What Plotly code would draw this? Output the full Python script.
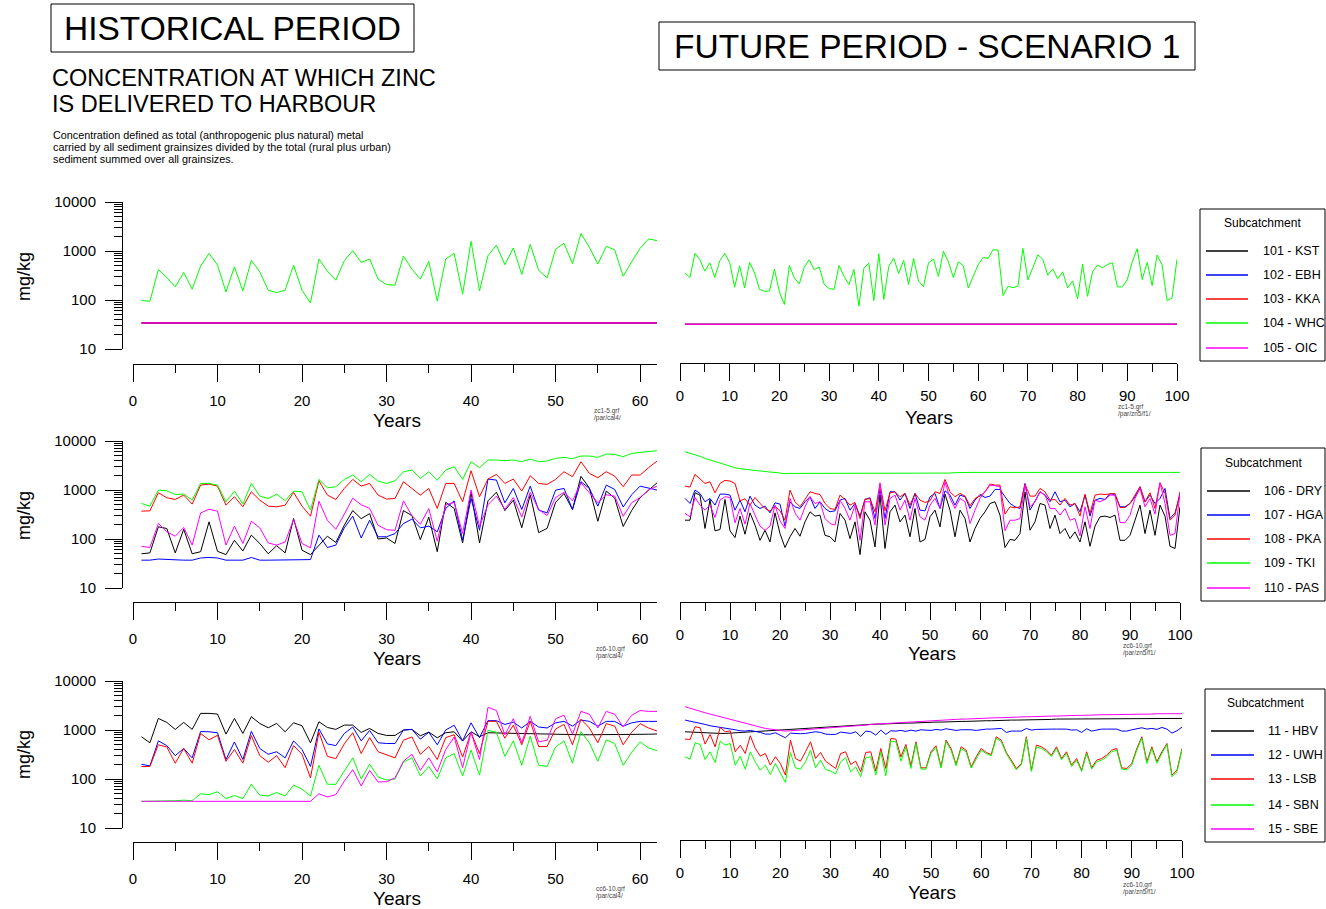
import plotly.graph_objects as go

W, H = 1326, 909
FONT = "Liberation Sans, Arial, Helvetica, sans-serif"

# ---------------- data ----------------
years_hist = list(range(1, 63))
years_fut = list(range(1, 101))

# Row 1: subcatchments 101-105
r1_names = ["101 - KST", "102 - EBH", "103 - KKA", "104 - WHC", "105 - OIC"]
kst_hist = [34] * 62
ebh_hist = [34] * 62
kka_hist = [34] * 62
whc_hist = [98, 94, 420, 288, 185, 365, 166, 492, 895, 515, 146, 476, 153, 643, 376, 158, 142, 158, 515, 158,
            87, 685, 388, 254, 633, 1016, 585, 685, 266, 207, 200, 789, 427, 266, 613, 95, 685, 895, 131, 1580,
            153, 802, 1306, 524, 1153, 332, 1371, 401, 283, 1082, 1438, 549, 2272, 1190, 541, 1247, 1049, 306, 604, 1135,
            1765, 1632]
oic_hist = [34] * 62

kst_fut = [32] * 100
ebh_fut = [32] * 100
kka_fut = [32] * 100
whc_fut = [358, 287, 894, 663, 388, 575, 287, 632, 894, 575, 182, 499, 176, 584, 358, 165, 150, 153, 426, 146,
           81, 507, 283, 213, 469, 663, 413, 476, 210, 171, 165, 507, 306, 206, 420, 75, 447, 566, 97, 881,
           103, 484, 717, 347, 642, 206, 706, 241, 188, 575, 684, 301, 984, 603, 287, 603, 499, 176, 306, 523,
           740, 706, 1063, 1047, 123, 191, 179, 191, 1133, 257, 461, 839, 673, 321, 433, 270, 376, 176, 245, 106,
           540, 119, 376, 515, 454, 531, 575, 185, 185, 261, 603, 1115, 261, 584, 197, 826, 523, 97, 110, 684]
oic_fut = [32] * 100

# Row 2: subcatchments 106-110
r2_names = ["106 - DRY", "107 - HGA", "108 - PKA", "109 - TKI", "110 - PAS"]
dry_hist = [50, 52, 177, 164, 52, 158, 50, 55, 224, 56, 48, 94, 57, 120, 81, 50, 73, 52, 262, 59,
            48, 75, 114, 85, 191, 380, 260, 330, 100, 105, 81, 380, 300, 97, 280, 55, 560, 420, 83, 900,
            83, 600, 900, 380, 620, 170, 800, 135, 165, 560, 850, 400, 1900, 1100, 230, 950, 680, 180, 380, 700,
            1000, 1400]
hga_hist = [37, 37, 39, 38, 37, 37, 37, 41, 42, 41, 37, 37, 37, 42, 37, 37, 37, 37, 38, 37,
            38, 120, 67, 75, 169, 292, 105, 242, 111, 111, 129, 207, 254, 169, 183, 140, 420, 600, 94, 673,
            151, 1671, 1594, 548, 1076, 400, 1202, 388, 342, 995, 1076, 400, 1473, 1076, 469, 1259, 1028, 450, 800, 1200,
            1100, 1000]
pka_hist = [370, 376, 878, 694, 641, 787, 515, 1259, 1321, 1202, 491, 728, 454, 920, 621, 469, 454, 491, 892, 469,
            292, 1545, 787, 641, 1076, 1644, 1202, 1361, 787, 652, 673, 1473, 1076, 787, 1076, 420, 1361, 1361, 574, 2473,
            728, 1671, 2081, 1361, 1671, 950, 1954, 1361, 1300, 1644, 2360, 1865, 3779, 2183, 1778, 2360, 1923, 1164, 2018, 2018,
            2850, 3900]
tki_hist = [531, 469, 995, 964, 811, 824, 621, 1361, 1361, 1259, 574, 950, 515, 1361, 750, 673, 824, 603, 950, 920,
            388, 1644, 1111, 1164, 1644, 2018, 1473, 2081, 1521, 1361, 1545, 2360, 2552, 1724, 2360, 1594, 2552, 2985, 1644, 3779,
            2850, 4088, 4088, 3964, 4088, 3779, 4286, 3779, 3900, 4425, 4634, 4355, 4936, 4936, 4634, 5425, 5335, 4782, 5597, 5773,
            6051, 6339]
pas_hist = [71, 67, 207, 140, 114, 172, 75, 340, 405, 370, 75, 183, 81, 231, 169, 83, 75, 87, 250, 81,
            66, 593, 240, 158, 321, 680, 500, 420, 190, 155, 150, 600, 300, 200, 420, 90, 500, 560, 130, 1000,
            180, 500, 750, 400, 700, 280, 900, 400, 300, 700, 900, 600, 1400, 900, 550, 800, 750, 290, 550, 700,
            1000, 1200]

dry_fut = [242, 242, 878, 787, 164, 641, 147, 156, 641, 147, 107, 293, 125, 342, 192, 94, 151, 87, 342, 129,
           67, 111, 164, 114, 224, 359, 293, 307, 119, 111, 87, 332, 242, 102, 224, 48, 359, 242, 69, 787,
           64, 359, 491, 224, 307, 111, 420, 87, 98, 284, 388, 177, 824, 388, 111, 388, 262, 87, 164, 262,
           359, 531, 574, 307, 67, 98, 94, 129, 920, 151, 224, 531, 491, 164, 307, 129, 164, 102, 140, 87,
           224, 71, 183, 284, 293, 275, 307, 94, 94, 119, 242, 491, 129, 388, 119, 491, 293, 71, 64, 454]
hga_fut = [673, 531, 996, 850, 574, 673, 491, 824, 824, 787, 388, 621, 359, 750, 491, 420, 469, 342, 548, 515,
           183, 574, 454, 420, 574, 727, 420, 574, 420, 359, 376, 621, 673, 388, 531, 293, 641, 694, 262, 1027,
           262, 920, 920, 621, 850, 420, 850, 388, 376, 727, 850, 420, 964, 787, 491, 787, 727, 420, 621, 811,
           705, 750, 1027, 1027, 727, 531, 454, 420, 1362, 388, 593, 920, 787, 574, 920, 574, 621, 454, 531, 359,
           787, 293, 621, 673, 641, 850, 787, 454, 454, 531, 727, 1165, 574, 787, 531, 673, 1077, 262, 342, 787]
pka_fut = [1202, 1147, 2080, 1645, 1362, 1473, 878, 1362, 1570, 1520, 1362, 602, 662, 491, 705, 531, 420, 370, 469, 376,
           242, 996, 574, 454, 641, 920, 850, 811, 531, 420, 401, 787, 641, 491, 557, 262, 651, 662, 359, 1320,
           376, 878, 920, 727, 850, 491, 850, 621, 557, 602, 920, 850, 1645, 920, 727, 850, 750, 476, 673, 750,
           920, 1320, 1260, 1260, 321, 454, 433, 454, 1320, 750, 750, 1077, 920, 621, 641, 491, 673, 491, 531, 293,
           824, 332, 787, 824, 811, 824, 850, 440, 440, 531, 787, 1165, 574, 878, 420, 1405, 850, 242, 307, 920]
tki_fut = [6051, 5684, 5338, 4858, 4421, 4088, 3779, 3494, 3230, 3034, 2849, 2718, 2634, 2552, 2474, 2397, 2359, 2323, 2287, 2216,
           2148, 2182, 2182, 2182, 2182, 2182, 2182, 2182, 2182, 2182, 2182, 2182, 2182, 2182, 2182, 2148, 2182, 2182, 2182, 2182,
           2182, 2182, 2182, 2182, 2182, 2182, 2216, 2182, 2182, 2216, 2216, 2216, 2216, 2216, 2250, 2287, 2287, 2287, 2287, 2287,
           2287, 2287, 2287, 2287, 2287, 2287, 2287, 2287, 2287, 2287, 2287, 2287, 2287, 2287, 2287, 2287, 2287, 2287, 2287, 2287,
           2287, 2287, 2287, 2287, 2287, 2287, 2287, 2287, 2287, 2287, 2323, 2359, 2359, 2323, 2359, 2323, 2287, 2287, 2323, 2287]
pas_fut = [332, 284, 705, 491, 388, 491, 275, 621, 727, 705, 214, 420, 201, 531, 307, 183, 151, 183, 491, 235,
           164, 673, 342, 242, 454, 727, 531, 574, 262, 207, 192, 621, 420, 242, 491, 94, 574, 574, 192, 1405,
           192, 673, 787, 388, 621, 242, 673, 284, 242, 491, 673, 420, 1473, 673, 420, 673, 574, 207, 388, 673,
           920, 1260, 1222, 1165, 147, 242, 242, 262, 1260, 454, 574, 920, 787, 420, 420, 307, 420, 242, 262, 116,
           454, 164, 621, 574, 641, 787, 787, 217, 214, 307, 673, 1077, 454, 673, 321, 1405, 531, 119, 129, 850]

# Row 3: subcatchments 11-15
r3_names = ["11 - HBV", "12 - UWH", "13 - LSB", "14 - SBN", "15 - SBE"]
hbv_hist = [728, 548, 1724, 1428, 1028, 1428, 1028, 2183, 2183, 2115, 824, 1724, 851, 1865, 1361, 1111, 1361, 920, 1406, 1221,
            548, 1473, 1128, 1028, 1259, 1259, 892, 1076, 851, 774, 774, 995, 1028, 762, 906, 694, 878, 920, 593, 920,
            728, 880, 870, 860, 850, 840, 830, 820, 820, 810, 800, 800, 800, 800, 800, 800, 800, 800, 810, 820,
            820, 830]
uwh_hist = [200, 185, 600, 480, 300, 420, 270, 930, 920, 880, 250, 570, 250, 940, 420, 320, 360, 270, 600, 400,
            180, 1050, 520, 480, 850, 1150, 600, 980, 550, 530, 530, 1000, 1030, 650, 900, 500, 1000, 1250, 600, 1400,
            700, 1550, 1550, 1300, 1450, 1100, 1500, 1150, 1100, 1400, 1500, 1200, 1600, 1500, 1200, 1500, 1500, 1200, 1400, 1500,
            1500, 1500]
lsb_hist = [180, 180, 500, 450, 210, 420, 210, 850, 630, 780, 230, 400, 210, 770, 300, 220, 300, 170, 480, 320,
            105, 900, 290, 260, 520, 880, 330, 700, 360, 310, 270, 620, 720, 320, 460, 250, 700, 800, 280, 900,
            330, 1500, 1500, 680, 1250, 500, 1500, 460, 460, 1050, 1300, 500, 1650, 1100, 550, 1350, 1200, 500, 900, 1350,
            1100, 950]
sbn_hist = [35, 35, 36, 36, 36, 37, 36, 50, 48, 55, 40, 46, 40, 78, 47, 45, 53, 45, 75, 62,
            45, 190, 78, 78, 150, 270, 100, 200, 110, 95, 100, 220, 270, 115, 180, 100, 270, 330, 115, 390,
            120, 980, 900, 290, 600, 190, 750, 190, 180, 450, 600, 210, 920, 550, 230, 630, 530, 190, 350, 570,
            430, 380]
sbe_hist = [35, 35, 35, 35, 35, 35, 35, 35, 35, 35, 35, 35, 35, 35, 35, 35, 35, 35, 35, 35,
            35, 50, 43, 48, 90, 155, 72, 150, 87, 88, 105, 230, 320, 150, 270, 140, 400, 720, 170, 900,
            250, 2900, 2500, 800, 1700, 550, 1900, 570, 620, 1700, 2000, 820, 2400, 2100, 1100, 2400, 2100, 1150, 2000, 2500,
            2400, 2400]

hbv_fut = [920, 906, 892, 878, 864, 851, 851, 851, 851, 864, 864, 878, 892, 906, 920, 935, 950, 980, 995, 1011,
           1027, 1043, 1060, 1076, 1094, 1111, 1128, 1147, 1165, 1183, 1202, 1221, 1240, 1240, 1260, 1280, 1280, 1300, 1320, 1320,
           1341, 1341, 1362, 1362, 1384, 1384, 1406, 1406, 1428, 1428, 1451, 1451, 1474, 1474, 1474, 1497, 1497, 1521, 1521, 1521,
           1545, 1545, 1569, 1569, 1569, 1594, 1594, 1594, 1619, 1619, 1619, 1645, 1645, 1645, 1671, 1671, 1671, 1671, 1697, 1697,
           1697, 1697, 1724, 1724, 1724, 1724, 1724, 1724, 1724, 1724, 1724, 1724, 1724, 1724, 1724, 1724, 1724, 1724, 1724, 1724]
uwh_fut = [1594, 1521, 1474, 1384, 1300, 1221, 1183, 1128, 1111, 1076, 1011, 964, 950, 980, 950, 892, 824, 824, 878, 787,
           694, 864, 838, 838, 851, 878, 920, 892, 824, 812, 812, 906, 892, 851, 920, 739, 950, 920, 787, 995,
           812, 964, 950, 980, 935, 995, 950, 1011, 995, 980, 1027, 995, 1060, 1011, 980, 1011, 1027, 1011, 980, 1027,
           1043, 1043, 1060, 1076, 892, 950, 950, 950, 1076, 995, 1027, 1043, 1043, 1043, 1043, 1043, 1043, 995, 1011, 892,
           1060, 950, 1011, 1043, 1043, 1043, 1043, 950, 950, 1011, 1060, 1111, 1043, 1076, 1027, 1128, 1043, 864, 964, 1147]
lsb_fut = [652, 641, 1165, 1111, 515, 811, 454, 1128, 920, 964, 359, 491, 332, 762, 420, 293, 332, 192, 284, 207,
           120, 621, 262, 231, 359, 574, 262, 348, 231, 198, 164, 332, 359, 198, 231, 140, 348, 359, 145, 420,
           164, 673, 652, 284, 507, 186, 574, 169, 169, 359, 476, 177, 621, 420, 198, 454, 388, 177, 284, 420,
           348, 316, 727, 621, 348, 242, 164, 207, 727, 151, 491, 454, 388, 307, 454, 262, 359, 192, 262, 151,
           359, 169, 242, 262, 307, 388, 420, 169, 164, 207, 420, 727, 224, 454, 224, 359, 531, 120, 151, 420]
sbn_fut = [284, 254, 548, 507, 250, 359, 217, 593, 491, 531, 192, 293, 159, 359, 224, 151, 192, 123, 207, 129,
           85, 348, 169, 159, 224, 388, 169, 242, 156, 145, 127, 224, 271, 140, 177, 111, 271, 284, 120, 359,
           116, 593, 574, 231, 454, 164, 531, 159, 159, 332, 440, 167, 580, 388, 186, 420, 359, 167, 262, 388,
           330, 297, 680, 580, 330, 228, 154, 195, 680, 143, 454, 420, 359, 288, 420, 246, 332, 180, 242, 143,
           332, 159, 224, 242, 284, 359, 388, 159, 154, 192, 388, 683, 207, 420, 210, 332, 507, 111, 140, 400]
sbe_fut = [2990, 2761, 2594, 2435, 2250, 2115, 1987, 1837, 1724, 1619, 1521, 1428, 1341, 1260, 1183, 1128, 1076, 1043, 1011, 980,
           950, 964, 980, 995, 1011, 1027, 1043, 1060, 1076, 1094, 1111, 1147, 1165, 1183, 1221, 1240, 1260, 1300, 1320, 1341,
           1362, 1384, 1406, 1428, 1451, 1474, 1497, 1521, 1545, 1569, 1569, 1594, 1619, 1645, 1645, 1671, 1671, 1697, 1724, 1724,
           1752, 1752, 1780, 1780, 1808, 1808, 1837, 1837, 1866, 1866, 1895, 1895, 1925, 1925, 1925, 1956, 1956, 1987, 1987, 1987,
           2018, 2018, 2018, 2050, 2050, 2050, 2082, 2082, 2082, 2082, 2115, 2115, 2115, 2115, 2148, 2148, 2148, 2148, 2148, 2148]

colors = ["#000000", "#0000ff", "#ff0000", "#00ff00", "#ff00ff"]
y_ticks = [10, 100, 1000, 10000]
y_tick_text = ["10", "100", "1000", "10000"]
x_label = "Years"
y_label = "mg/kg"

# ---------------- layout helpers ----------------
def fx(x):
    return x / W


def fy(y):
    return 1 - y / H


panels = [
    dict(years=years_hist, series=[kst_hist, ebh_hist, kka_hist, whc_hist, oic_hist],
         xdom=(133, 657), xr=[0, 62], ydom=(202, 349), xline=364, yvis=True, so=6),
    dict(years=years_fut, series=[kst_fut, ebh_fut, kka_fut, whc_fut, oic_fut],
         xdom=(680, 1177), xr=[0, 100], ydom=(202, 349), xline=363, yvis=False, so=2),
    dict(years=years_hist, series=[dry_hist, hga_hist, pka_hist, tki_hist, pas_hist],
         xdom=(133, 657), xr=[0, 62], ydom=(441, 588), xline=602, yvis=True, so=6),
    dict(years=years_fut, series=[dry_fut, hga_fut, pka_fut, tki_fut, pas_fut],
         xdom=(680, 1180), xr=[0, 100], ydom=(441, 588), xline=602, yvis=False, so=2),
    dict(years=years_hist, series=[hbv_hist, uwh_hist, lsb_hist, sbn_hist, sbe_hist],
         xdom=(133, 657), xr=[0, 62], ydom=(681, 828), xline=842, yvis=True, so=6),
    dict(years=years_fut, series=[hbv_fut, uwh_fut, lsb_fut, sbn_fut, sbe_fut],
         xdom=(680, 1182), xr=[0, 100], ydom=(681, 828), xline=840, yvis=False, so=2),
]

fig = go.Figure()
minor_vals = [m * 10 ** e for e in (1, 2, 3) for m in range(2, 10)]
layout_axes = {}
for i, p in enumerate(panels, start=1):
    xa = "x" if i == 1 else f"x{i}"
    ya = "y" if i == 1 else f"y{i}"
    for s, c in zip(p["series"], colors):
        fig.add_trace(go.Scatter(x=p["years"], y=s, mode="lines", xaxis=xa, yaxis=ya,
                                 line=dict(color=c, width=1), hoverinfo="skip", showlegend=False))
    xkey = "xaxis" if i == 1 else f"xaxis{i}"
    ykey = "yaxis" if i == 1 else f"yaxis{i}"
    layout_axes[xkey] = dict(
        domain=[fx(p["xdom"][0]), fx(p["xdom"][1])], range=p["xr"], anchor="free",
        position=fy(p["xline"]), showline=True, linecolor="black", linewidth=1,
        ticks="outside", ticklen=17, tickwidth=1, tickcolor="black",
        tickmode="linear", tick0=0, dtick=10, automargin=False,
        minor=dict(ticks="outside", ticklen=8, tickwidth=1, tickcolor="black", tickmode="linear", tick0=0, dtick=5),
        showgrid=False, zeroline=False, ticklabelstandoff=p["so"],
        tickfont=dict(family=FONT, size=15, color="black"),
    )
    ydict = dict(
        domain=[fy(p["ydom"][1]), fy(p["ydom"][0])], type="log", range=[1, 4],
        anchor="free", position=fx(122), showgrid=False, zeroline=False, automargin=False,
    )
    if p["yvis"]:
        ydict.update(showline=True, linecolor="black", linewidth=1, ticks="outside", ticklen=17,
                     tickwidth=1, tickcolor="black", tickmode="array", tickvals=y_ticks, ticktext=y_tick_text,
                     minor=dict(ticks="outside", ticklen=8, tickwidth=1, tickcolor="black",
                                tickmode="array", tickvals=minor_vals),
                     ticklabelstandoff=6, tickfont=dict(family=FONT, size=15, color="black"))
    else:
        ydict.update(visible=False)
    layout_axes[ykey] = ydict

shapes = []
annotations = []


def text(x, y, t, size, xanchor="left", yanchor="middle", color="black", angle=0):
    annotations.append(dict(x=fx(x), y=fy(y), xref="paper", yref="paper", text=t, showarrow=False,
                            xanchor=xanchor, yanchor=yanchor, textangle=angle,
                            font=dict(family=FONT, size=size, color=color)))


def rect(x0, y0, x1, y1):
    shapes.append(dict(type="rect", xref="paper", yref="paper", x0=fx(x0), x1=fx(x1), y0=fy(y1), y1=fy(y0),
                       line=dict(color="black", width=1), fillcolor="rgba(0,0,0,0)"))


def hline(x0, x1, y, color, width=1.5):
    shapes.append(dict(type="line", xref="paper", yref="paper", x0=fx(x0), x1=fx(x1), y0=fy(y), y1=fy(y),
                       line=dict(color=color, width=width)))


# Titles
rect(51, 4, 414, 52)
text(233, 29, "HISTORICAL PERIOD", 33.5, xanchor="center")
rect(659, 22, 1195, 70)
text(927, 46, "FUTURE PERIOD - SCENARIO 1", 33.5, xanchor="center")
text(50, 78, "CONCENTRATION AT WHICH ZINC", 23.5)
text(50, 104, "IS DELIVERED TO HARBOUR", 23.5)
text(51, 135, "Concentration defined as total (anthropogenic plus natural) metal", 10.8)
text(51, 147, "carried by all sediment grainsizes divided by the total (rural plus urban)", 10.8)
text(51, 159, "sediment summed over all grainsizes.", 10.8)

# Axis titles
for yc in (277, 516, 755):
    text(24, yc, y_label, 18, xanchor="center", angle=-90)
for (xc, yc) in [(397, 420), (929, 417), (397, 658), (932, 653), (397, 898), (932, 892)]:
    text(xc, yc, x_label, 19, xanchor="center")

# File labels
for (xl, yl, l1, l2) in [(592, 411, "zc1-5.grf", "/par/cal4/"), (1116, 407, "zc1-5.grf", "/par/zn5/f1/"),
                         (594, 649, "zc6-10.grf", "/par/cal4/"), (1121, 646, "zc6-10.grf", "/par/zn5/f1/"),
                         (594, 889, "cc6-10.grf", "/par/cal4/"), (1121, 885, "zc6-10.grf", "/par/zn5/f1/")]:
    text(xl, yl, l1, 6.5, color="#444444")
    text(xl, yl + 7, l2, 6.5, color="#444444")

# Legend boxes
legends = [
    dict(box=(1200, 209, 1325, 361), title_y=223, ys=[251, 275, 299, 323, 348], lx=(1206, 1248), tx=1261, names=r1_names),
    dict(box=(1201, 448, 1325, 601), title_y=463, ys=[491, 515, 539, 563, 588], lx=(1207, 1250), tx=1262, names=r2_names),
    dict(box=(1205, 689, 1325, 842), title_y=703, ys=[731, 755, 779, 805, 829], lx=(1211, 1254), tx=1266, names=r3_names),
]
for lg in legends:
    x0, y0, x1, y1 = lg["box"]
    rect(x0, y0, x1, y1)
    text((x0 + x1) / 2, lg["title_y"], "Subcatchment", 12, xanchor="center")
    for yy, nm, c in zip(lg["ys"], lg["names"], colors):
        hline(lg["lx"][0], lg["lx"][1], yy, c)
        text(lg["tx"], yy, nm, 12.5)

fig.update_layout(
    autosize=True,
    margin=dict(l=0, r=0, t=0, b=0, pad=0, autoexpand=False),
    paper_bgcolor="white", plot_bgcolor="white",
    showlegend=False,
    font=dict(family=FONT, color="black"),
    shapes=shapes, annotations=annotations,
    **layout_axes,
)

# fixed-size graph div pinned to the page corner (no default body margin offset)
fig.write_html("out.html",
               config={"displayModeBar": False},
               default_width=f"{W}px",
               default_height=f"{H}px;position:absolute;left:0;top:0")
